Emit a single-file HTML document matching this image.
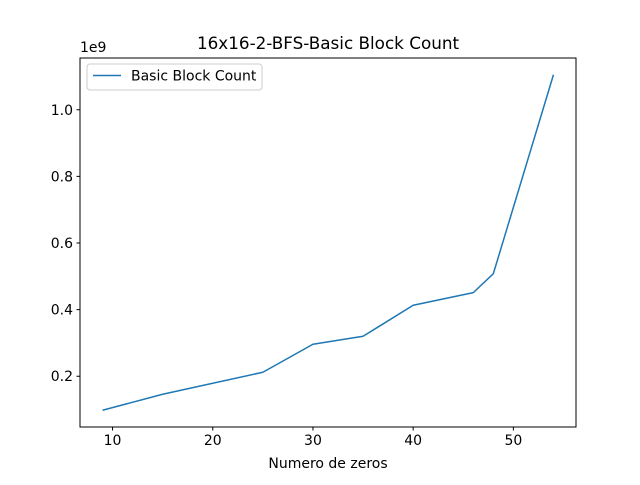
<!DOCTYPE html>
<html><head><meta charset="utf-8"><style>
body{margin:0;background:#fff}
svg text{font-family:"DejaVu Sans","Liberation Sans",sans-serif;fill:#000}
</style></head><body>
<svg id="chart" width="640" height="480" xmlns="http://www.w3.org/2000/svg">
<rect width="640" height="480" fill="#fff"/>
<text x="328" y="49" font-size="16.8" text-anchor="middle">16x16-2-BFS-Basic Block Count</text>
<text x="328" y="468" font-size="14" text-anchor="middle">Numero de zeros</text>
<text x="80" y="52" font-size="14">1e9</text>
<g id="ticks"></g>
<polyline id="series" fill="none" stroke="#1f77b4" stroke-width="1.5" stroke-linejoin="round"/>
<rect x="80" y="58" width="496" height="369" fill="none" stroke="#000" stroke-width="1"/>
<g>
<rect x="87" y="64" width="175" height="26" rx="3" fill="#fff" stroke="#ccc"/>
<line x1="93" y1="75.5" x2="121" y2="75.5" stroke="#1f77b4" stroke-width="1.5"/>
<text x="131" y="80.5" font-size="14">Basic Block Count</text>
</g>
</svg>
<script>
const xValues=[9,15,25,30,35,40,46,48,54];
const yValues=[0.098,0.146,0.212,0.296,0.32,0.413,0.451,0.508,1.105];
const xTicks=[10,20,30,40,50];
const yTicks=[0.2,0.4,0.6,0.8,1.0];
const yTickLabels=["0.2","0.4","0.6","0.8","1.0"];
const L=80,R=576,T=58,B=427;
const xmin=Math.min(...xValues),xmax=Math.max(...xValues),ymin=Math.min(...yValues),ymax=Math.max(...yValues);
const x0=xmin-(xmax-xmin)*0.05,x1=xmax+(xmax-xmin)*0.05;
const y0=ymin-(ymax-ymin)*0.05,y1=ymax+(ymax-ymin)*0.05;
const sx=v=>L+(v-x0)/(x1-x0)*(R-L);
const sy=v=>B-(v-y0)/(y1-y0)*(B-T);
const NS="http://www.w3.org/2000/svg";
const g=document.getElementById('ticks');
function mk(tag,attrs){const e=document.createElementNS(NS,tag);for(const k in attrs)e.setAttribute(k,attrs[k]);g.appendChild(e);return e;}
xTicks.forEach(v=>{
const t=mk('line',{x1:sx(v),x2:sx(v),y1:B,y2:B+3.5,stroke:'#000'});


const l=mk('text',{x:sx(v),y:B+18,'font-size':14,'text-anchor':'middle'});
l.textContent=v;


});
yTicks.forEach((v,i)=>{
const t=mk('line',{x1:L-3.5,x2:L,y1:sy(v),y2:sy(v),stroke:'#000'});


const l=mk('text',{x:L-7,y:sy(v)+5,'font-size':14,'text-anchor':'end'});
l.textContent=yTickLabels[i];


});
document.getElementById('series').setAttribute('points',xValues.map((v,i)=>sx(v)+','+sy(yValues[i])).join(' '));
</script>
</body></html>
